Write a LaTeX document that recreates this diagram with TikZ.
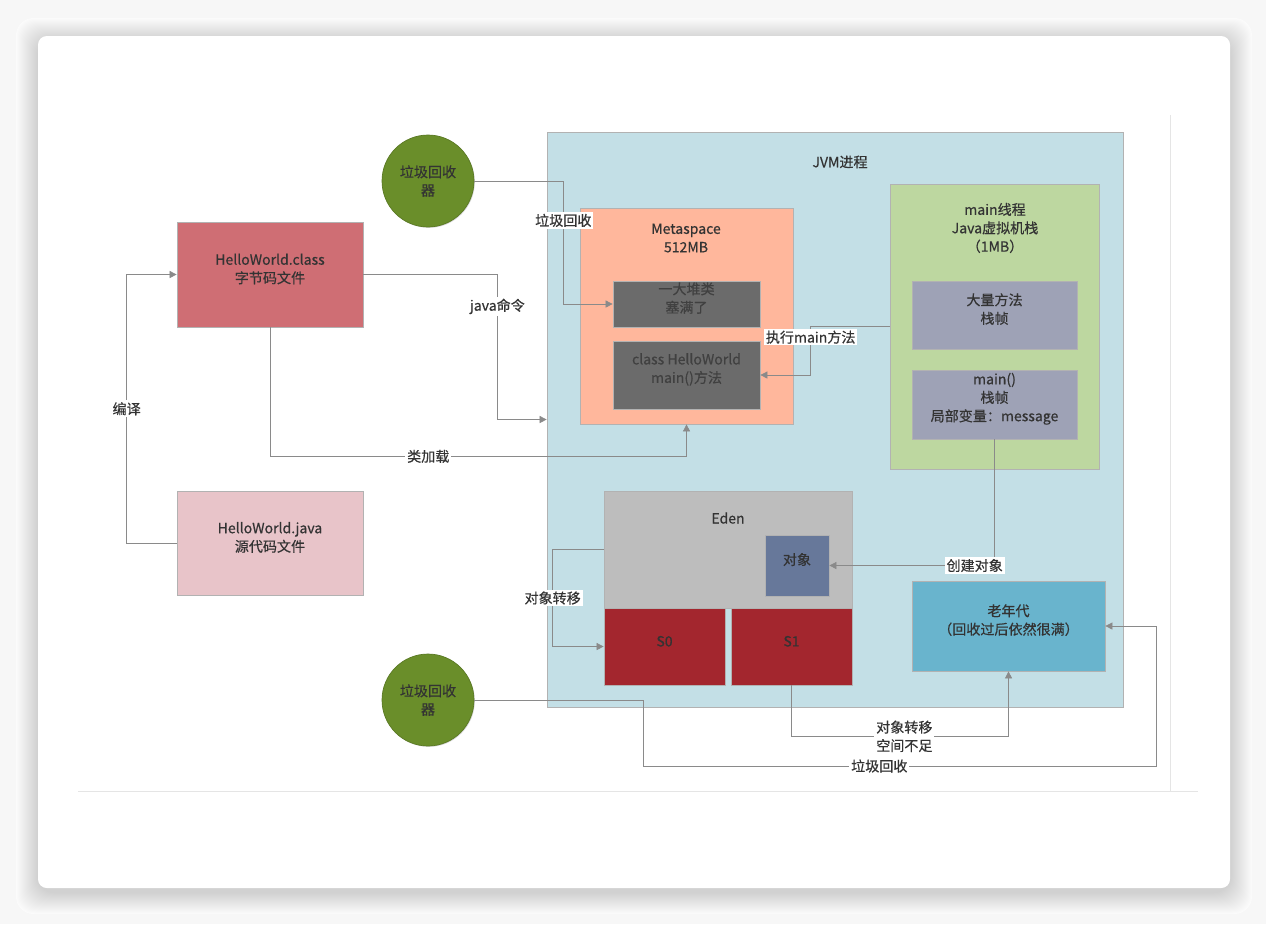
\documentclass[tikz,border=0pt]{standalone}
\usepackage{fontspec}
\setmainfont{Noto Sans CJK SC}[FakeBold=0.5]
\usetikzlibrary{fit,arrows.meta,shadows}
\definecolor{jvmblue}{HTML}{C3DFE6}
\definecolor{metaorange}{HTML}{FFB79C}
\definecolor{darkbox}{HTML}{6B6B6B}
\definecolor{threadgreen}{HTML}{BDD7A0}
\definecolor{framegray}{HTML}{9EA2B6}
\definecolor{edengray}{HTML}{BDBDBD}
\definecolor{objblue}{HTML}{67789A}
\definecolor{survred}{HTML}{A3262E}
\definecolor{oldblue}{HTML}{69B4CD}
\definecolor{classred}{HTML}{CF6E74}
\definecolor{javapink}{HTML}{E8C4C9}
\definecolor{gcgreen}{HTML}{6A8E2A}
\definecolor{wiregray}{HTML}{8A8A8A}
\definecolor{inkgray}{HTML}{333333}

\begin{document}
\begin{tikzpicture}[x=0.02cm, y=-0.02cm,
        box/.style={draw=gray!60, inner sep=0pt, align=center, text=inkgray,
            font=\fontsize{8}{10.5}\selectfont,
            drop shadow={shadow xshift=0.5pt, shadow yshift=-0.5pt, opacity=0.3}},
        ttl/.style={align=center, text=inkgray, font=\fontsize{8}{10.5}\selectfont},
        lbl/.style={fill=white, inner sep=1pt, text=inkgray, align=center,
            font=\fontsize{8}{10.5}\selectfont},
        wire/.style={draw=wiregray, -{Triangle[length=4pt, width=4pt]}},
        gc/.style={circle, fill=gcgreen, draw=gcgreen!85!black, inner sep=0pt,
            minimum size=1.84cm, align=center, text=inkgray,
            font=\fontsize{8}{10.5}\selectfont,
            drop shadow={shadow xshift=0.5pt, shadow yshift=-0.5pt, opacity=0.3}},
    ]
    \useasboundingbox (0,0) rectangle (1266,924);
    % card
    \fill[black!3] (0,0) rectangle (1266,924);
    \foreach \d [evaluate=\d as \c using 19-0.8*\d] in {22,21,...,1}
        \fill[black!\c, rounded corners=10pt] (38-\d,36-\d+4) rectangle (1230+\d,888+\d+4);
    \fill[white, rounded corners=5pt] (38,36) rectangle (1230,888);
    \draw[black!10] (1170,115) -- (1170,791);
    \draw[black!10] (78,791) -- (1198,791);

    \node[box, fill=jvmblue, fit={(547,132)(1123,707)}] (jvm) {};
    \node[ttl] (jvmt) at (840,162) {JVM进程};
    \node[box, fill=metaorange, fit={(580,208)(793,424)}] (meta) {};
    \node[ttl] (metat) at (686,238) {Metaspace\\512MB};
    \node[box, fill=darkbox, text=black!75, fit={(613,281)(760,327)}] (heap) {一大堆类\\塞满了};
    \node[box, fill=darkbox, text=black!75, fit={(613,341)(760,409)}] (hello) {class HelloWorld\\main()方法};

    \node[box, fill=threadgreen, fit={(890,184)(1099,469)}] (thread) {};
    \node[ttl] (threadt) at (995,228) {main线程\\Java虚拟机栈\\（1MB）};
    \node[box, fill=framegray, fit={(912,281)(1077,349)}] (frames) {大量方法\\栈帧};
    \node[box, fill=framegray, fit={(912,370)(1077,439)}] (mainf) {main()\\栈帧\\局部变量：message};

    \node[box, fill=edengray, fit={(604,491)(852,608)}] (eden) {};
    \node[ttl] (edent) at (728,518) {Eden};
    \node[box, fill=objblue, fit={(765,535)(829,596)}] (obj) {对象};
    \node[box, fill=survred, fit={(604,608)(725,685)}] (s0) {S0};
    \node[box, fill=survred, fit={(731,608)(852,685)}] (s1) {S1};
    \node[box, fill=oldblue, fit={(912,581)(1105,671)}] (old) {老年代\\（回收过后依然很满）};

    \node[box, fill=classred, fit={(177,222)(363,327)}] (class) {HelloWorld.class\\字节码文件};
    \node[box, fill=javapink, fit={(177,491)(363,595)}] (java) {HelloWorld.java\\源代码文件};

    \node[gc] (gctop) at (428,181) {垃圾回收\\器};
    \node[gc] (gcbot) at (428,700) {垃圾回收\\器};

    \draw[wire] (java.west) -- ++(-50,0) |- node[lbl, pos=0.25] {编译} (class.west);
    \draw[wire] (class.east) -- ++(134,0) |- node[lbl, pos=0.11] {java命令} (jvm.west);
    \draw[wire] (class.south) -- ++(0,129) -| node[lbl, pos=0.19] {类加载} (meta.south);
    \draw[wire] (gctop.east) -- ++(89,0) |- node[lbl, pos=0.16] {垃圾回收} (heap.west);
    \draw[wire] (thread.west) -- ++(-79,0) |- node[lbl, pos=0.11] {执行main方法} (hello.east);
    \draw[wire] (mainf.south) |- node[lbl, pos=0.56] {创建对象} (obj.east);
    \draw[wire] (eden.west) -- ++(-51,0) |- node[lbl, pos=0.25] {对象转移} (s0.west);
    \draw[wire] (s1.south) -- ++(0,51) -| node[lbl, pos=0.26] {对象转移\\空间不足} (old.south);
    \draw[wire] (gcbot.east) -- ++(169,0) -- ++(0,66)
        -- node[lbl, pos=0.46] {垃圾回收} ++(513,0) |- (old.east);
\end{tikzpicture}
\end{document}
